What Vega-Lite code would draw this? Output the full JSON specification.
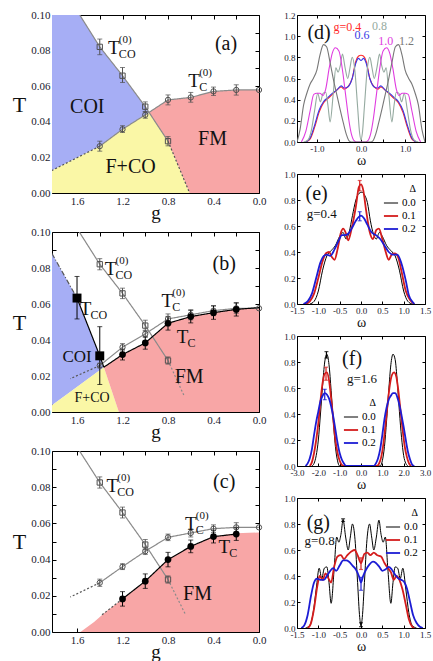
{
"$schema":"https://vega.github.io/schema/vega-lite/v6.json",
"background":"white",
"padding":{"left":11,"top":8,"right":2,"bottom":0},
"config":{
 "view":{"stroke":"#000000","strokeWidth":1},
 "axis":{"grid":false,"domain":false,"tickColor":"#000000","tickWidth":1,"labelFont":"Liberation Serif","labelColor":"#1a1a2e","titleFont":"Liberation Serif","titleFontWeight":"normal","titleColor":"#111111","labelFlush":false,"labelOverlap":false},
 "text":{"font":"Liberation Serif"},
 "legend":{"symbolType":"stroke","symbolSize":200,"symbolStrokeWidth":2,"labelFont":"Liberation Serif","labelFontSize":11,"titleFont":"Liberation Serif","titleFontSize":10,"titleFontWeight":"normal","titleAnchor":"end","rowPadding":0,"padding":0,"titlePadding":1,"labelOffset":3}
},
"datasets":{
"reg":[
{"p":"a","c":"COI","g":1.82,"top":0.1,"bot":0.0127},{"p":"a","c":"COI","g":1.576,"top":0.1,"bot":0.0206},{"p":"a","c":"COI","g":1.4,"top":0.0821,"bot":0.0263},{"p":"a","c":"COI","g":1.2,"top":0.0659,"bot":0.0358},{"p":"a","c":"COI","g":1.0,"top":0.0485,"bot":0.0439},{"p":"a","c":"COI","g":0.97,"top":0.0452,"bot":0.0452},
{"p":"a","c":"FCO","g":1.82,"top":0.0127,"bot":0},{"p":"a","c":"FCO","g":1.4,"top":0.0263,"bot":0},{"p":"a","c":"FCO","g":1.2,"top":0.0358,"bot":0},{"p":"a","c":"FCO","g":1.0,"top":0.0439,"bot":0},{"p":"a","c":"FCO","g":0.97,"top":0.0452,"bot":0},{"p":"a","c":"FCO","g":0.8,"top":0.0291,"bot":0},{"p":"a","c":"FCO","g":0.61,"top":0,"bot":0},
{"p":"a","c":"FM","g":0.97,"top":0.0452,"bot":0.0452},{"p":"a","c":"FM","g":0.8,"top":0.0523,"bot":0.0291},{"p":"a","c":"FM","g":0.61,"top":0.0536,"bot":0},{"p":"a","c":"FM","g":0.6,"top":0.0537,"bot":0},{"p":"a","c":"FM","g":0.4,"top":0.0571,"bot":0},{"p":"a","c":"FM","g":0.2,"top":0.0579,"bot":0},{"p":"a","c":"FM","g":0,"top":0.0579,"bot":0},
{"p":"b","c":"COI","g":1.82,"top":0.088,"bot":0.0037},{"p":"b","c":"COI","g":1.6,"top":0.0633,"bot":0.0139},{"p":"b","c":"COI","g":1.4,"top":0.0312,"bot":0.0232},{"p":"b","c":"COI","g":1.364,"top":0.0249,"bot":0.0249},
{"p":"b","c":"FCO","g":1.82,"top":0.0037,"bot":0},{"p":"b","c":"FCO","g":1.364,"top":0.0249,"bot":0},{"p":"b","c":"FCO","g":1.232,"top":0,"bot":0},
{"p":"b","c":"FM","g":1.364,"top":0.0249,"bot":0.0249},{"p":"b","c":"FM","g":1.232,"top":0.0305,"bot":0},{"p":"b","c":"FM","g":1.2,"top":0.0319,"bot":0},{"p":"b","c":"FM","g":1.0,"top":0.0384,"bot":0},{"p":"b","c":"FM","g":0.8,"top":0.0493,"bot":0},{"p":"b","c":"FM","g":0.6,"top":0.053,"bot":0},{"p":"b","c":"FM","g":0.4,"top":0.0552,"bot":0},{"p":"b","c":"FM","g":0.2,"top":0.057,"bot":0},{"p":"b","c":"FM","g":0,"top":0.058,"bot":0},
{"p":"c","c":"FM","g":1.57,"top":0,"bot":0},{"p":"c","c":"FM","g":1.45,"top":0.0055,"bot":0},{"p":"c","c":"FM","g":1.35,"top":0.011,"bot":0},{"p":"c","c":"FM","g":1.2,"top":0.0183,"bot":0},{"p":"c","c":"FM","g":1.0,"top":0.0281,"bot":0},{"p":"c","c":"FM","g":0.8,"top":0.04,"bot":0},{"p":"c","c":"FM","g":0.6,"top":0.0473,"bot":0},{"p":"c","c":"FM","g":0.4,"top":0.0527,"bot":0},{"p":"c","c":"FM","g":0.2,"top":0.0545,"bot":0},{"p":"c","c":"FM","g":0,"top":0.055,"bot":0}
],
"ln":[
{"p":"a","s":"tco0","c":"gray","dash":"solid","o":1,"g":1.576,"T":0.1},{"p":"a","s":"tco0","c":"gray","dash":"solid","o":2,"g":1.4,"T":0.0821},{"p":"a","s":"tco0","c":"gray","dash":"solid","o":3,"g":1.2,"T":0.0659},{"p":"a","s":"tco0","c":"gray","dash":"solid","o":4,"g":1.0,"T":0.0485},{"p":"a","s":"tco0","c":"gray","dash":"solid","o":5,"g":0.8,"T":0.0291},
{"p":"a","s":"tco0d","c":"dark","dash":"dot","o":1,"g":0.8,"T":0.0291},{"p":"a","s":"tco0d","c":"dark","dash":"dot","o":2,"g":0.61,"T":0},
{"p":"a","s":"tc0","c":"gray","dash":"solid","o":1,"g":1.4,"T":0.0263},{"p":"a","s":"tc0","c":"gray","dash":"solid","o":2,"g":1.2,"T":0.0358},{"p":"a","s":"tc0","c":"gray","dash":"solid","o":3,"g":1.0,"T":0.0439},{"p":"a","s":"tc0","c":"gray","dash":"solid","o":4,"g":0.8,"T":0.0523},{"p":"a","s":"tc0","c":"gray","dash":"solid","o":5,"g":0.6,"T":0.0537},{"p":"a","s":"tc0","c":"gray","dash":"solid","o":6,"g":0.4,"T":0.0571},{"p":"a","s":"tc0","c":"gray","dash":"solid","o":7,"g":0.2,"T":0.0579},{"p":"a","s":"tc0","c":"gray","dash":"solid","o":8,"g":0,"T":0.0579},
{"p":"a","s":"tc0d","c":"dark","dash":"dot","o":1,"g":1.4,"T":0.0263},{"p":"a","s":"tc0d","c":"dark","dash":"dot","o":2,"g":1.82,"T":0.0127},
{"p":"b","s":"tco0","c":"gray","dash":"solid","o":1,"g":1.58,"T":0.1},{"p":"b","s":"tco0","c":"gray","dash":"solid","o":2,"g":1.4,"T":0.0821},{"p":"b","s":"tco0","c":"gray","dash":"solid","o":3,"g":1.2,"T":0.0659},{"p":"b","s":"tco0","c":"gray","dash":"solid","o":4,"g":1.0,"T":0.048},{"p":"b","s":"tco0","c":"gray","dash":"solid","o":5,"g":0.8,"T":0.0286},
{"p":"b","s":"tco0d","c":"gray","dash":"dot","o":1,"g":0.8,"T":0.0286},{"p":"b","s":"tco0d","c":"gray","dash":"dot","o":2,"g":0.66,"T":0.0092},
{"p":"b","s":"tc0","c":"gray","dash":"solid","o":1,"g":1.4,"T":0.0258},{"p":"b","s":"tc0","c":"gray","dash":"solid","o":2,"g":1.2,"T":0.036},{"p":"b","s":"tc0","c":"gray","dash":"solid","o":3,"g":1.0,"T":0.0434},{"p":"b","s":"tc0","c":"gray","dash":"solid","o":4,"g":0.8,"T":0.0517},{"p":"b","s":"tc0","c":"gray","dash":"solid","o":5,"g":0.6,"T":0.054},{"p":"b","s":"tc0","c":"gray","dash":"solid","o":6,"g":0.4,"T":0.0563},{"p":"b","s":"tc0","c":"gray","dash":"solid","o":7,"g":0.2,"T":0.0576},{"p":"b","s":"tc0","c":"gray","dash":"solid","o":8,"g":0,"T":0.0576},
{"p":"b","s":"tc0d","c":"dark","dash":"dot","o":1,"g":1.4,"T":0.0258},{"p":"b","s":"tc0d","c":"dark","dash":"dot","o":2,"g":1.66,"T":0.0185},
{"p":"b","s":"tc","c":"black","dash":"solid","o":1,"g":1.364,"T":0.0249},{"p":"b","s":"tc","c":"black","dash":"solid","o":2,"g":1.2,"T":0.0319},{"p":"b","s":"tc","c":"black","dash":"solid","o":3,"g":1.0,"T":0.0384},{"p":"b","s":"tc","c":"black","dash":"solid","o":4,"g":0.8,"T":0.0493},{"p":"b","s":"tc","c":"black","dash":"solid","o":5,"g":0.6,"T":0.053},{"p":"b","s":"tc","c":"black","dash":"solid","o":6,"g":0.4,"T":0.0552},{"p":"b","s":"tc","c":"black","dash":"solid","o":7,"g":0.2,"T":0.057},{"p":"b","s":"tc","c":"black","dash":"solid","o":8,"g":0,"T":0.058},
{"p":"b","s":"tco","c":"black","dash":"solid","o":1,"g":1.6,"T":0.0633},{"p":"b","s":"tco","c":"black","dash":"solid","o":2,"g":1.4,"T":0.0312},{"p":"b","s":"tco","c":"black","dash":"solid","o":3,"g":1.364,"T":0.0249},
{"p":"b","s":"tcod","c":"dark","dash":"dashdot","o":1,"g":1.82,"T":0.088},{"p":"b","s":"tcod","c":"dark","dash":"dashdot","o":2,"g":1.6,"T":0.0633},
{"p":"c","s":"tco0","c":"gray","dash":"solid","o":1,"g":1.578,"T":0.1},{"p":"c","s":"tco0","c":"gray","dash":"solid","o":2,"g":1.4,"T":0.0826},{"p":"c","s":"tco0","c":"gray","dash":"solid","o":3,"g":1.2,"T":0.066},{"p":"c","s":"tco0","c":"gray","dash":"solid","o":4,"g":1.0,"T":0.0483},{"p":"c","s":"tco0","c":"gray","dash":"solid","o":5,"g":0.8,"T":0.029},
{"p":"c","s":"tco0d","c":"gray","dash":"dot","o":1,"g":0.8,"T":0.029},{"p":"c","s":"tco0d","c":"gray","dash":"dot","o":2,"g":0.65,"T":0.0101},
{"p":"c","s":"tc0","c":"gray","dash":"solid","o":1,"g":1.4,"T":0.0272},{"p":"c","s":"tc0","c":"gray","dash":"solid","o":2,"g":1.2,"T":0.0361},{"p":"c","s":"tc0","c":"gray","dash":"solid","o":3,"g":1.0,"T":0.0446},{"p":"c","s":"tc0","c":"gray","dash":"solid","o":4,"g":0.8,"T":0.0523},{"p":"c","s":"tc0","c":"gray","dash":"solid","o":5,"g":0.6,"T":0.0547},{"p":"c","s":"tc0","c":"gray","dash":"solid","o":6,"g":0.4,"T":0.0571},{"p":"c","s":"tc0","c":"gray","dash":"solid","o":7,"g":0.2,"T":0.0578},{"p":"c","s":"tc0","c":"gray","dash":"solid","o":8,"g":0,"T":0.0578},
{"p":"c","s":"tc0d","c":"dark","dash":"dot","o":1,"g":1.4,"T":0.0272},{"p":"c","s":"tc0d","c":"dark","dash":"dot","o":2,"g":1.66,"T":0.0193},
{"p":"c","s":"tc","c":"black","dash":"solid","o":1,"g":1.2,"T":0.0183},{"p":"c","s":"tc","c":"black","dash":"solid","o":2,"g":1.0,"T":0.0281},{"p":"c","s":"tc","c":"black","dash":"solid","o":3,"g":0.8,"T":0.04},{"p":"c","s":"tc","c":"black","dash":"solid","o":4,"g":0.6,"T":0.0473},{"p":"c","s":"tc","c":"black","dash":"solid","o":5,"g":0.4,"T":0.0527},{"p":"c","s":"tc","c":"black","dash":"solid","o":6,"g":0.2,"T":0.0541},
{"p":"c","s":"tcd","c":"dark","dash":"dot","o":1,"g":1.38,"T":0.0095},{"p":"c","s":"tcd","c":"dark","dash":"dot","o":2,"g":1.2,"T":0.0183}
],
"pt":[
{"p":"a","c":"mk","m":"osq","g":1.4,"T":0.0821,"lo":0.0777,"hi":0.0865},{"p":"a","c":"mk","m":"osq","g":1.2,"T":0.0659,"lo":0.0621,"hi":0.0705},{"p":"a","c":"mk","m":"osq","g":1.0,"T":0.0485,"lo":0.0455,"hi":0.0512},{"p":"a","c":"mk","m":"osq","g":0.8,"T":0.0291,"lo":0.0265,"hi":0.0317},
{"p":"a","c":"mk","m":"oci","g":1.4,"T":0.0263,"lo":0.0235,"hi":0.0291},{"p":"a","c":"mk","m":"oci","g":1.2,"T":0.0358,"lo":0.034,"hi":0.0378},{"p":"a","c":"mk","m":"oci","g":1.0,"T":0.0439,"lo":0.042,"hi":0.0458},{"p":"a","c":"mk","m":"oci","g":0.8,"T":0.0523,"lo":0.0495,"hi":0.0551},{"p":"a","c":"mk","m":"oci","g":0.6,"T":0.0537,"lo":0.051,"hi":0.0565},{"p":"a","c":"mk","m":"oci","g":0.4,"T":0.0571,"lo":0.0548,"hi":0.0595},{"p":"a","c":"mk","m":"oci","g":0.2,"T":0.0579,"lo":0.055,"hi":0.0608},{"p":"a","c":"mk","m":"oci","g":0,"T":0.0579,"lo":0.0579,"hi":0.0579},
{"p":"b","c":"mk","m":"osq","g":1.4,"T":0.0821,"lo":0.079,"hi":0.0852},{"p":"b","c":"mk","m":"osq","g":1.2,"T":0.0659,"lo":0.063,"hi":0.0688},{"p":"b","c":"mk","m":"osq","g":1.0,"T":0.048,"lo":0.045,"hi":0.051},{"p":"b","c":"mk","m":"osq","g":0.8,"T":0.0286,"lo":0.0266,"hi":0.0306},
{"p":"b","c":"mk","m":"oci","g":1.4,"T":0.0258,"lo":0.0245,"hi":0.0271},{"p":"b","c":"mk","m":"oci","g":1.2,"T":0.036,"lo":0.034,"hi":0.038},{"p":"b","c":"mk","m":"oci","g":1.0,"T":0.0434,"lo":0.0414,"hi":0.0454},{"p":"b","c":"mk","m":"oci","g":0.8,"T":0.0517,"lo":0.049,"hi":0.0545},{"p":"b","c":"mk","m":"oci","g":0.6,"T":0.054,"lo":0.0512,"hi":0.0568},{"p":"b","c":"mk","m":"oci","g":0.4,"T":0.0563,"lo":0.0535,"hi":0.0591},{"p":"b","c":"mk","m":"oci","g":0.2,"T":0.0576,"lo":0.0548,"hi":0.0605},{"p":"b","c":"mk","m":"oci","g":0,"T":0.0576,"lo":0.0576,"hi":0.0576},
{"p":"b","c":"black","m":"fci","g":1.2,"T":0.0319,"lo":0.0289,"hi":0.0349},{"p":"b","c":"black","m":"fci","g":1.0,"T":0.0384,"lo":0.0349,"hi":0.0419},{"p":"b","c":"black","m":"fci","g":0.8,"T":0.0493,"lo":0.0455,"hi":0.0531},{"p":"b","c":"black","m":"fci","g":0.6,"T":0.053,"lo":0.0495,"hi":0.0565},{"p":"b","c":"black","m":"fci","g":0.4,"T":0.0552,"lo":0.0515,"hi":0.0589},{"p":"b","c":"black","m":"fci","g":0.2,"T":0.057,"lo":0.0533,"hi":0.0607},
{"p":"b","c":"black","m":"fsq","g":1.6,"T":0.0633,"lo":0.0517,"hi":0.0753},{"p":"b","c":"black","m":"fsq","g":1.4,"T":0.0312,"lo":0.0153,"hi":0.0474},
{"p":"c","c":"mk","m":"osq","g":1.4,"T":0.0826,"lo":0.0795,"hi":0.0857},{"p":"c","c":"mk","m":"osq","g":1.2,"T":0.066,"lo":0.063,"hi":0.069},{"p":"c","c":"mk","m":"osq","g":1.0,"T":0.0483,"lo":0.0455,"hi":0.0511},{"p":"c","c":"mk","m":"osq","g":0.8,"T":0.029,"lo":0.027,"hi":0.031},
{"p":"c","c":"mk","m":"oci","g":1.4,"T":0.0272,"lo":0.0252,"hi":0.0292},{"p":"c","c":"mk","m":"oci","g":1.2,"T":0.0361,"lo":0.0345,"hi":0.0377},{"p":"c","c":"mk","m":"oci","g":1.0,"T":0.0446,"lo":0.0428,"hi":0.0464},{"p":"c","c":"mk","m":"oci","g":0.8,"T":0.0523,"lo":0.0505,"hi":0.0541},{"p":"c","c":"mk","m":"oci","g":0.6,"T":0.0547,"lo":0.0525,"hi":0.0569},{"p":"c","c":"mk","m":"oci","g":0.4,"T":0.0571,"lo":0.055,"hi":0.0592},{"p":"c","c":"mk","m":"oci","g":0.2,"T":0.0578,"lo":0.0552,"hi":0.0604},{"p":"c","c":"mk","m":"oci","g":0,"T":0.0578,"lo":0.0578,"hi":0.0578},
{"p":"c","c":"black","m":"fci","g":1.2,"T":0.0183,"lo":0.0143,"hi":0.0223},{"p":"c","c":"black","m":"fci","g":1.0,"T":0.0281,"lo":0.0241,"hi":0.0321},{"p":"c","c":"black","m":"fci","g":0.8,"T":0.04,"lo":0.036,"hi":0.044},{"p":"c","c":"black","m":"fci","g":0.6,"T":0.0473,"lo":0.0438,"hi":0.0508},{"p":"c","c":"black","m":"fci","g":0.4,"T":0.0527,"lo":0.0492,"hi":0.0562},{"p":"c","c":"black","m":"fci","g":0.2,"T":0.0541,"lo":0.0506,"hi":0.0576}
],
"lab":[
{"p":"a","g":0.29,"T":0.0836,"t":"(a)","sub":"","sup":"","k":"L"},{"p":"a","g":1.276,"T":0.0817,"t":"T","sub":"CO","sup":"(0)","k":"T"},{"p":"a","g":0.57,"T":0.063,"t":"T","sub":"C","sup":"(0)","k":"T"},{"p":"a","g":1.51,"T":0.0481,"t":"COI","sub":"","sup":"","k":"L"},{"p":"a","g":1.129,"T":0.0146,"t":"F+CO","sub":"","sup":"","k":"L"},{"p":"a","g":0.409,"T":0.0304,"t":"FM","sub":"","sup":"","k":"L"},
{"p":"b","g":0.306,"T":0.0821,"t":"(b)","sub":"","sup":"","k":"L"},{"p":"b","g":1.305,"T":0.0793,"t":"T","sub":"CO","sup":"(0)","k":"T"},{"p":"b","g":1.526,"T":0.0572,"t":"T","sub":"CO","sup":"","k":"T"},{"p":"b","g":0.806,"T":0.0614,"t":"T","sub":"C","sup":"(0)","k":"T"},{"p":"b","g":0.673,"T":0.0415,"t":"T","sub":"C","sup":"","k":"T"},{"p":"b","g":1.6,"T":0.0308,"t":"COI","sub":"","sup":"","k":"M"},{"p":"b","g":1.467,"T":0.0079,"t":"F+CO","sub":"","sup":"","k":"S"},{"p":"b","g":0.614,"T":0.0194,"t":"FM","sub":"","sup":"","k":"L"},
{"p":"c","g":0.306,"T":0.0826,"t":"(c)","sub":"","sup":"","k":"L"},{"p":"c","g":1.29,"T":0.0807,"t":"T","sub":"CO","sup":"(0)","k":"T"},{"p":"c","g":0.6,"T":0.0596,"t":"T","sub":"C","sup":"(0)","k":"T"},{"p":"c","g":0.306,"T":0.0468,"t":"T","sub":"C","sup":"","k":"T"},{"p":"c","g":0.541,"T":0.0211,"t":"FM","sub":"","sup":"","k":"L"}
],
"sp":[
{"p":"d","s":"0.4","w":-1.25,"A":0},{"p":"d","s":"0.4","w":-1.15,"A":0.03},{"p":"d","s":"0.4","w":-1.05,"A":0.14},{"p":"d","s":"0.4","w":-0.95,"A":0.28},{"p":"d","s":"0.4","w":-0.85,"A":0.37},{"p":"d","s":"0.4","w":-0.75,"A":0.41},{"p":"d","s":"0.4","w":-0.65,"A":0.45},{"p":"d","s":"0.4","w":-0.55,"A":0.49},{"p":"d","s":"0.4","w":-0.45,"A":0.52},{"p":"d","s":"0.4","w":-0.38,"A":0.5},{"p":"d","s":"0.4","w":-0.3,"A":0.52},{"p":"d","s":"0.4","w":-0.2,"A":0.6},{"p":"d","s":"0.4","w":-0.12,"A":0.76},{"p":"d","s":"0.4","w":-0.06,"A":0.81},{"p":"d","s":"0.4","w":0,"A":0.82},{"p":"d","s":"0.4","w":0.06,"A":0.81},{"p":"d","s":"0.4","w":0.12,"A":0.76},{"p":"d","s":"0.4","w":0.2,"A":0.6},{"p":"d","s":"0.4","w":0.3,"A":0.52},{"p":"d","s":"0.4","w":0.38,"A":0.5},{"p":"d","s":"0.4","w":0.45,"A":0.52},{"p":"d","s":"0.4","w":0.55,"A":0.49},{"p":"d","s":"0.4","w":0.65,"A":0.45},{"p":"d","s":"0.4","w":0.75,"A":0.41},{"p":"d","s":"0.4","w":0.85,"A":0.37},{"p":"d","s":"0.4","w":0.95,"A":0.28},{"p":"d","s":"0.4","w":1.05,"A":0.14},{"p":"d","s":"0.4","w":1.15,"A":0.03},{"p":"d","s":"0.4","w":1.25,"A":0},
{"p":"d","s":"0.6","w":-1.25,"A":0},{"p":"d","s":"0.6","w":-1.15,"A":0.04},{"p":"d","s":"0.6","w":-1.05,"A":0.16},{"p":"d","s":"0.6","w":-0.95,"A":0.3},{"p":"d","s":"0.6","w":-0.85,"A":0.38},{"p":"d","s":"0.6","w":-0.75,"A":0.42},{"p":"d","s":"0.6","w":-0.65,"A":0.46},{"p":"d","s":"0.6","w":-0.55,"A":0.49},{"p":"d","s":"0.6","w":-0.45,"A":0.53},{"p":"d","s":"0.6","w":-0.38,"A":0.51},{"p":"d","s":"0.6","w":-0.3,"A":0.52},{"p":"d","s":"0.6","w":-0.2,"A":0.6},{"p":"d","s":"0.6","w":-0.12,"A":0.74},{"p":"d","s":"0.6","w":-0.06,"A":0.79},{"p":"d","s":"0.6","w":0,"A":0.77},{"p":"d","s":"0.6","w":0.06,"A":0.79},{"p":"d","s":"0.6","w":0.12,"A":0.74},{"p":"d","s":"0.6","w":0.2,"A":0.6},{"p":"d","s":"0.6","w":0.3,"A":0.52},{"p":"d","s":"0.6","w":0.38,"A":0.51},{"p":"d","s":"0.6","w":0.45,"A":0.53},{"p":"d","s":"0.6","w":0.55,"A":0.49},{"p":"d","s":"0.6","w":0.65,"A":0.46},{"p":"d","s":"0.6","w":0.75,"A":0.42},{"p":"d","s":"0.6","w":0.85,"A":0.38},{"p":"d","s":"0.6","w":0.95,"A":0.3},{"p":"d","s":"0.6","w":1.05,"A":0.16},{"p":"d","s":"0.6","w":1.15,"A":0.04},{"p":"d","s":"0.6","w":1.25,"A":0},
{"p":"d","s":"0.8","w":-1.3,"A":0},{"p":"d","s":"0.8","w":-1.2,"A":0.02},{"p":"d","s":"0.8","w":-1.12,"A":0.12},{"p":"d","s":"0.8","w":-1.05,"A":0.3},{"p":"d","s":"0.8","w":-0.98,"A":0.46},{"p":"d","s":"0.8","w":-0.92,"A":0.38},{"p":"d","s":"0.8","w":-0.86,"A":0.46},{"p":"d","s":"0.8","w":-0.8,"A":0.47},{"p":"d","s":"0.8","w":-0.75,"A":0.35},{"p":"d","s":"0.8","w":-0.7,"A":0.19},{"p":"d","s":"0.8","w":-0.63,"A":0.45},{"p":"d","s":"0.8","w":-0.57,"A":0.7},{"p":"d","s":"0.8","w":-0.52,"A":0.66},{"p":"d","s":"0.8","w":-0.47,"A":0.72},{"p":"d","s":"0.8","w":-0.42,"A":0.83},{"p":"d","s":"0.8","w":-0.36,"A":0.7},{"p":"d","s":"0.8","w":-0.3,"A":0.6},{"p":"d","s":"0.8","w":-0.25,"A":0.7},{"p":"d","s":"0.8","w":-0.2,"A":0.8},{"p":"d","s":"0.8","w":-0.14,"A":0.68},{"p":"d","s":"0.8","w":-0.08,"A":0.35},{"p":"d","s":"0.8","w":-0.03,"A":0.08},{"p":"d","s":"0.8","w":0,"A":0.02},{"p":"d","s":"0.8","w":0.03,"A":0.08},{"p":"d","s":"0.8","w":0.08,"A":0.35},{"p":"d","s":"0.8","w":0.14,"A":0.68},{"p":"d","s":"0.8","w":0.2,"A":0.8},{"p":"d","s":"0.8","w":0.25,"A":0.7},{"p":"d","s":"0.8","w":0.3,"A":0.6},{"p":"d","s":"0.8","w":0.36,"A":0.7},{"p":"d","s":"0.8","w":0.42,"A":0.83},{"p":"d","s":"0.8","w":0.47,"A":0.72},{"p":"d","s":"0.8","w":0.52,"A":0.66},{"p":"d","s":"0.8","w":0.57,"A":0.7},{"p":"d","s":"0.8","w":0.63,"A":0.45},{"p":"d","s":"0.8","w":0.7,"A":0.19},{"p":"d","s":"0.8","w":0.75,"A":0.35},{"p":"d","s":"0.8","w":0.8,"A":0.47},{"p":"d","s":"0.8","w":0.86,"A":0.46},{"p":"d","s":"0.8","w":0.92,"A":0.38},{"p":"d","s":"0.8","w":0.98,"A":0.46},{"p":"d","s":"0.8","w":1.05,"A":0.3},{"p":"d","s":"0.8","w":1.12,"A":0.12},{"p":"d","s":"0.8","w":1.2,"A":0.02},{"p":"d","s":"0.8","w":1.3,"A":0},
{"p":"d","s":"1.0","w":-1.35,"A":0},{"p":"d","s":"1.0","w":-1.25,"A":0.1},{"p":"d","s":"1.0","w":-1.15,"A":0.3},{"p":"d","s":"1.0","w":-1.07,"A":0.45},{"p":"d","s":"1.0","w":-1.0,"A":0.46},{"p":"d","s":"1.0","w":-0.93,"A":0.46},{"p":"d","s":"1.0","w":-0.86,"A":0.44},{"p":"d","s":"1.0","w":-0.8,"A":0.5},{"p":"d","s":"1.0","w":-0.72,"A":0.7},{"p":"d","s":"1.0","w":-0.65,"A":0.84},{"p":"d","s":"1.0","w":-0.58,"A":0.89},{"p":"d","s":"1.0","w":-0.5,"A":0.86},{"p":"d","s":"1.0","w":-0.42,"A":0.68},{"p":"d","s":"1.0","w":-0.35,"A":0.45},{"p":"d","s":"1.0","w":-0.28,"A":0.22},{"p":"d","s":"1.0","w":-0.22,"A":0.08},{"p":"d","s":"1.0","w":-0.15,"A":0.01},{"p":"d","s":"1.0","w":-0.1,"A":0},{"p":"d","s":"1.0","w":0.1,"A":0},{"p":"d","s":"1.0","w":0.15,"A":0.01},{"p":"d","s":"1.0","w":0.22,"A":0.08},{"p":"d","s":"1.0","w":0.28,"A":0.22},{"p":"d","s":"1.0","w":0.35,"A":0.45},{"p":"d","s":"1.0","w":0.42,"A":0.68},{"p":"d","s":"1.0","w":0.5,"A":0.86},{"p":"d","s":"1.0","w":0.58,"A":0.89},{"p":"d","s":"1.0","w":0.65,"A":0.84},{"p":"d","s":"1.0","w":0.72,"A":0.7},{"p":"d","s":"1.0","w":0.8,"A":0.5},{"p":"d","s":"1.0","w":0.86,"A":0.44},{"p":"d","s":"1.0","w":0.93,"A":0.46},{"p":"d","s":"1.0","w":1.0,"A":0.46},{"p":"d","s":"1.0","w":1.07,"A":0.45},{"p":"d","s":"1.0","w":1.15,"A":0.3},{"p":"d","s":"1.0","w":1.25,"A":0.1},{"p":"d","s":"1.0","w":1.35,"A":0},
{"p":"d","s":"1.2","w":-1.45,"A":0},{"p":"d","s":"1.2","w":-1.38,"A":0.12},{"p":"d","s":"1.2","w":-1.3,"A":0.35},{"p":"d","s":"1.2","w":-1.22,"A":0.47},{"p":"d","s":"1.2","w":-1.15,"A":0.55},{"p":"d","s":"1.2","w":-1.08,"A":0.6},{"p":"d","s":"1.2","w":-1.0,"A":0.68},{"p":"d","s":"1.2","w":-0.93,"A":0.82},{"p":"d","s":"1.2","w":-0.85,"A":0.92},{"p":"d","s":"1.2","w":-0.78,"A":0.9},{"p":"d","s":"1.2","w":-0.7,"A":0.75},{"p":"d","s":"1.2","w":-0.62,"A":0.58},{"p":"d","s":"1.2","w":-0.55,"A":0.45},{"p":"d","s":"1.2","w":-0.48,"A":0.32},{"p":"d","s":"1.2","w":-0.4,"A":0.18},{"p":"d","s":"1.2","w":-0.33,"A":0.07},{"p":"d","s":"1.2","w":-0.27,"A":0.01},{"p":"d","s":"1.2","w":-0.22,"A":0},{"p":"d","s":"1.2","w":0.22,"A":0},{"p":"d","s":"1.2","w":0.27,"A":0.01},{"p":"d","s":"1.2","w":0.33,"A":0.07},{"p":"d","s":"1.2","w":0.4,"A":0.18},{"p":"d","s":"1.2","w":0.48,"A":0.32},{"p":"d","s":"1.2","w":0.55,"A":0.45},{"p":"d","s":"1.2","w":0.62,"A":0.58},{"p":"d","s":"1.2","w":0.7,"A":0.75},{"p":"d","s":"1.2","w":0.78,"A":0.9},{"p":"d","s":"1.2","w":0.85,"A":0.92},{"p":"d","s":"1.2","w":0.93,"A":0.82},{"p":"d","s":"1.2","w":1.0,"A":0.68},{"p":"d","s":"1.2","w":1.08,"A":0.6},{"p":"d","s":"1.2","w":1.15,"A":0.55},{"p":"d","s":"1.2","w":1.22,"A":0.47},{"p":"d","s":"1.2","w":1.3,"A":0.35},{"p":"d","s":"1.2","w":1.38,"A":0.12},{"p":"d","s":"1.2","w":1.45,"A":0},
{"p":"e","s":"0.0","w":-1.2,"A":0},{"p":"e","s":"0.0","w":-1.1,"A":0.02},{"p":"e","s":"0.0","w":-1.0,"A":0.1},{"p":"e","s":"0.0","w":-0.9,"A":0.26},{"p":"e","s":"0.0","w":-0.8,"A":0.37},{"p":"e","s":"0.0","w":-0.7,"A":0.41},{"p":"e","s":"0.0","w":-0.6,"A":0.45},{"p":"e","s":"0.0","w":-0.5,"A":0.52},{"p":"e","s":"0.0","w":-0.42,"A":0.55},{"p":"e","s":"0.0","w":-0.35,"A":0.5},{"p":"e","s":"0.0","w":-0.28,"A":0.55},{"p":"e","s":"0.0","w":-0.2,"A":0.68},{"p":"e","s":"0.0","w":-0.12,"A":0.8},{"p":"e","s":"0.0","w":-0.05,"A":0.85},{"p":"e","s":"0.0","w":0.02,"A":0.86},{"p":"e","s":"0.0","w":0.08,"A":0.84},{"p":"e","s":"0.0","w":0.15,"A":0.78},{"p":"e","s":"0.0","w":0.22,"A":0.64},{"p":"e","s":"0.0","w":0.29,"A":0.54},{"p":"e","s":"0.0","w":0.36,"A":0.5},{"p":"e","s":"0.0","w":0.43,"A":0.55},{"p":"e","s":"0.0","w":0.5,"A":0.52},{"p":"e","s":"0.0","w":0.6,"A":0.45},{"p":"e","s":"0.0","w":0.7,"A":0.41},{"p":"e","s":"0.0","w":0.8,"A":0.37},{"p":"e","s":"0.0","w":0.9,"A":0.26},{"p":"e","s":"0.0","w":1.0,"A":0.1},{"p":"e","s":"0.0","w":1.1,"A":0.02},{"p":"e","s":"0.0","w":1.2,"A":0},
{"p":"e","s":"0.1","w":-1.3,"A":0},{"p":"e","s":"0.1","w":-1.2,"A":0.02},{"p":"e","s":"0.1","w":-1.1,"A":0.08},{"p":"e","s":"0.1","w":-1.0,"A":0.2},{"p":"e","s":"0.1","w":-0.9,"A":0.33},{"p":"e","s":"0.1","w":-0.82,"A":0.39},{"p":"e","s":"0.1","w":-0.75,"A":0.4},{"p":"e","s":"0.1","w":-0.68,"A":0.36},{"p":"e","s":"0.1","w":-0.62,"A":0.34},{"p":"e","s":"0.1","w":-0.55,"A":0.42},{"p":"e","s":"0.1","w":-0.47,"A":0.55},{"p":"e","s":"0.1","w":-0.42,"A":0.58},{"p":"e","s":"0.1","w":-0.36,"A":0.55},{"p":"e","s":"0.1","w":-0.3,"A":0.49},{"p":"e","s":"0.1","w":-0.22,"A":0.58},{"p":"e","s":"0.1","w":-0.12,"A":0.75},{"p":"e","s":"0.1","w":-0.05,"A":0.9},{"p":"e","s":"0.1","w":0,"A":0.92},{"p":"e","s":"0.1","w":0.05,"A":0.88},{"p":"e","s":"0.1","w":0.12,"A":0.72},{"p":"e","s":"0.1","w":0.2,"A":0.56},{"p":"e","s":"0.1","w":0.28,"A":0.5},{"p":"e","s":"0.1","w":0.36,"A":0.57},{"p":"e","s":"0.1","w":0.42,"A":0.58},{"p":"e","s":"0.1","w":0.5,"A":0.5},{"p":"e","s":"0.1","w":0.58,"A":0.4},{"p":"e","s":"0.1","w":0.65,"A":0.34},{"p":"e","s":"0.1","w":0.72,"A":0.38},{"p":"e","s":"0.1","w":0.8,"A":0.39},{"p":"e","s":"0.1","w":0.88,"A":0.35},{"p":"e","s":"0.1","w":0.95,"A":0.25},{"p":"e","s":"0.1","w":1.05,"A":0.1},{"p":"e","s":"0.1","w":1.15,"A":0.03},{"p":"e","s":"0.1","w":1.25,"A":0},
{"p":"e","s":"0.2","w":-1.35,"A":0},{"p":"e","s":"0.2","w":-1.25,"A":0.02},{"p":"e","s":"0.2","w":-1.15,"A":0.08},{"p":"e","s":"0.2","w":-1.05,"A":0.2},{"p":"e","s":"0.2","w":-0.95,"A":0.32},{"p":"e","s":"0.2","w":-0.87,"A":0.37},{"p":"e","s":"0.2","w":-0.8,"A":0.38},{"p":"e","s":"0.2","w":-0.72,"A":0.37},{"p":"e","s":"0.2","w":-0.62,"A":0.42},{"p":"e","s":"0.2","w":-0.52,"A":0.49},{"p":"e","s":"0.2","w":-0.45,"A":0.53},{"p":"e","s":"0.2","w":-0.37,"A":0.53},{"p":"e","s":"0.2","w":-0.3,"A":0.54},{"p":"e","s":"0.2","w":-0.22,"A":0.58},{"p":"e","s":"0.2","w":-0.12,"A":0.64},{"p":"e","s":"0.2","w":-0.05,"A":0.67},{"p":"e","s":"0.2","w":0,"A":0.68},{"p":"e","s":"0.2","w":0.07,"A":0.66},{"p":"e","s":"0.2","w":0.15,"A":0.61},{"p":"e","s":"0.2","w":0.25,"A":0.55},{"p":"e","s":"0.2","w":0.35,"A":0.53},{"p":"e","s":"0.2","w":0.45,"A":0.5},{"p":"e","s":"0.2","w":0.55,"A":0.45},{"p":"e","s":"0.2","w":0.65,"A":0.4},{"p":"e","s":"0.2","w":0.75,"A":0.38},{"p":"e","s":"0.2","w":0.85,"A":0.38},{"p":"e","s":"0.2","w":0.95,"A":0.31},{"p":"e","s":"0.2","w":1.05,"A":0.18},{"p":"e","s":"0.2","w":1.12,"A":0.07},{"p":"e","s":"0.2","w":1.2,"A":0.02},{"p":"e","s":"0.2","w":1.25,"A":0},
{"p":"f","s":"0.0","w":-2.3,"A":0},{"p":"f","s":"0.0","w":-2.2,"A":0.02},{"p":"f","s":"0.0","w":-2.1,"A":0.08},{"p":"f","s":"0.0","w":-2.0,"A":0.2},{"p":"f","s":"0.0","w":-1.9,"A":0.4},{"p":"f","s":"0.0","w":-1.8,"A":0.62},{"p":"f","s":"0.0","w":-1.7,"A":0.8},{"p":"f","s":"0.0","w":-1.6,"A":0.86},{"p":"f","s":"0.0","w":-1.5,"A":0.78},{"p":"f","s":"0.0","w":-1.4,"A":0.58},{"p":"f","s":"0.0","w":-1.3,"A":0.35},{"p":"f","s":"0.0","w":-1.2,"A":0.15},{"p":"f","s":"0.0","w":-1.1,"A":0.04},{"p":"f","s":"0.0","w":-1.0,"A":0},{"p":"f","s":"0.0","w":0.9,"A":0},{"p":"f","s":"0.0","w":1.0,"A":0.04},{"p":"f","s":"0.0","w":1.1,"A":0.15},{"p":"f","s":"0.0","w":1.2,"A":0.35},{"p":"f","s":"0.0","w":1.3,"A":0.58},{"p":"f","s":"0.0","w":1.4,"A":0.78},{"p":"f","s":"0.0","w":1.5,"A":0.86},{"p":"f","s":"0.0","w":1.6,"A":0.82},{"p":"f","s":"0.0","w":1.7,"A":0.65},{"p":"f","s":"0.0","w":1.8,"A":0.42},{"p":"f","s":"0.0","w":1.9,"A":0.22},{"p":"f","s":"0.0","w":2.0,"A":0.08},{"p":"f","s":"0.0","w":2.1,"A":0.02},{"p":"f","s":"0.0","w":2.2,"A":0},
{"p":"f","s":"0.1","w":-2.4,"A":0},{"p":"f","s":"0.1","w":-2.3,"A":0.03},{"p":"f","s":"0.1","w":-2.2,"A":0.1},{"p":"f","s":"0.1","w":-2.1,"A":0.2},{"p":"f","s":"0.1","w":-2.0,"A":0.33},{"p":"f","s":"0.1","w":-1.9,"A":0.5},{"p":"f","s":"0.1","w":-1.8,"A":0.64},{"p":"f","s":"0.1","w":-1.7,"A":0.71},{"p":"f","s":"0.1","w":-1.6,"A":0.72},{"p":"f","s":"0.1","w":-1.5,"A":0.66},{"p":"f","s":"0.1","w":-1.4,"A":0.52},{"p":"f","s":"0.1","w":-1.3,"A":0.36},{"p":"f","s":"0.1","w":-1.2,"A":0.2},{"p":"f","s":"0.1","w":-1.1,"A":0.1},{"p":"f","s":"0.1","w":-1.0,"A":0.04},{"p":"f","s":"0.1","w":-0.9,"A":0.01},{"p":"f","s":"0.1","w":-0.8,"A":0},{"p":"f","s":"0.1","w":0.75,"A":0},{"p":"f","s":"0.1","w":0.85,"A":0.02},{"p":"f","s":"0.1","w":0.95,"A":0.07},{"p":"f","s":"0.1","w":1.05,"A":0.17},{"p":"f","s":"0.1","w":1.15,"A":0.32},{"p":"f","s":"0.1","w":1.25,"A":0.48},{"p":"f","s":"0.1","w":1.35,"A":0.62},{"p":"f","s":"0.1","w":1.45,"A":0.7},{"p":"f","s":"0.1","w":1.55,"A":0.72},{"p":"f","s":"0.1","w":1.65,"A":0.69},{"p":"f","s":"0.1","w":1.75,"A":0.58},{"p":"f","s":"0.1","w":1.85,"A":0.43},{"p":"f","s":"0.1","w":1.95,"A":0.28},{"p":"f","s":"0.1","w":2.05,"A":0.15},{"p":"f","s":"0.1","w":2.15,"A":0.07},{"p":"f","s":"0.1","w":2.25,"A":0.02},{"p":"f","s":"0.1","w":2.35,"A":0},
{"p":"f","s":"0.2","w":-2.6,"A":0},{"p":"f","s":"0.2","w":-2.5,"A":0.02},{"p":"f","s":"0.2","w":-2.4,"A":0.06},{"p":"f","s":"0.2","w":-2.3,"A":0.13},{"p":"f","s":"0.2","w":-2.2,"A":0.24},{"p":"f","s":"0.2","w":-2.1,"A":0.34},{"p":"f","s":"0.2","w":-2.0,"A":0.42},{"p":"f","s":"0.2","w":-1.9,"A":0.5},{"p":"f","s":"0.2","w":-1.8,"A":0.54},{"p":"f","s":"0.2","w":-1.7,"A":0.56},{"p":"f","s":"0.2","w":-1.6,"A":0.55},{"p":"f","s":"0.2","w":-1.5,"A":0.52},{"p":"f","s":"0.2","w":-1.4,"A":0.46},{"p":"f","s":"0.2","w":-1.3,"A":0.38},{"p":"f","s":"0.2","w":-1.2,"A":0.28},{"p":"f","s":"0.2","w":-1.1,"A":0.18},{"p":"f","s":"0.2","w":-1.0,"A":0.1},{"p":"f","s":"0.2","w":-0.9,"A":0.05},{"p":"f","s":"0.2","w":-0.8,"A":0.02},{"p":"f","s":"0.2","w":-0.7,"A":0},{"p":"f","s":"0.2","w":0.6,"A":0},{"p":"f","s":"0.2","w":0.7,"A":0.02},{"p":"f","s":"0.2","w":0.8,"A":0.06},{"p":"f","s":"0.2","w":0.9,"A":0.13},{"p":"f","s":"0.2","w":1.0,"A":0.24},{"p":"f","s":"0.2","w":1.1,"A":0.36},{"p":"f","s":"0.2","w":1.2,"A":0.45},{"p":"f","s":"0.2","w":1.3,"A":0.51},{"p":"f","s":"0.2","w":1.4,"A":0.54},{"p":"f","s":"0.2","w":1.5,"A":0.56},{"p":"f","s":"0.2","w":1.6,"A":0.56},{"p":"f","s":"0.2","w":1.7,"A":0.53},{"p":"f","s":"0.2","w":1.8,"A":0.47},{"p":"f","s":"0.2","w":1.9,"A":0.39},{"p":"f","s":"0.2","w":2.0,"A":0.3},{"p":"f","s":"0.2","w":2.1,"A":0.2},{"p":"f","s":"0.2","w":2.2,"A":0.11},{"p":"f","s":"0.2","w":2.3,"A":0.05},{"p":"f","s":"0.2","w":2.4,"A":0.01},{"p":"f","s":"0.2","w":2.5,"A":0},
{"p":"g","s":"0.0","w":-1.3,"A":0},{"p":"g","s":"0.0","w":-1.2,"A":0.02},{"p":"g","s":"0.0","w":-1.12,"A":0.12},{"p":"g","s":"0.0","w":-1.05,"A":0.3},{"p":"g","s":"0.0","w":-0.98,"A":0.46},{"p":"g","s":"0.0","w":-0.92,"A":0.38},{"p":"g","s":"0.0","w":-0.86,"A":0.46},{"p":"g","s":"0.0","w":-0.8,"A":0.47},{"p":"g","s":"0.0","w":-0.75,"A":0.35},{"p":"g","s":"0.0","w":-0.7,"A":0.19},{"p":"g","s":"0.0","w":-0.63,"A":0.45},{"p":"g","s":"0.0","w":-0.57,"A":0.7},{"p":"g","s":"0.0","w":-0.52,"A":0.66},{"p":"g","s":"0.0","w":-0.47,"A":0.72},{"p":"g","s":"0.0","w":-0.42,"A":0.83},{"p":"g","s":"0.0","w":-0.36,"A":0.7},{"p":"g","s":"0.0","w":-0.3,"A":0.6},{"p":"g","s":"0.0","w":-0.25,"A":0.7},{"p":"g","s":"0.0","w":-0.2,"A":0.8},{"p":"g","s":"0.0","w":-0.14,"A":0.68},{"p":"g","s":"0.0","w":-0.08,"A":0.35},{"p":"g","s":"0.0","w":-0.03,"A":0.08},{"p":"g","s":"0.0","w":0,"A":0.02},{"p":"g","s":"0.0","w":0.03,"A":0.08},{"p":"g","s":"0.0","w":0.08,"A":0.35},{"p":"g","s":"0.0","w":0.14,"A":0.68},{"p":"g","s":"0.0","w":0.2,"A":0.8},{"p":"g","s":"0.0","w":0.25,"A":0.7},{"p":"g","s":"0.0","w":0.3,"A":0.6},{"p":"g","s":"0.0","w":0.36,"A":0.7},{"p":"g","s":"0.0","w":0.42,"A":0.83},{"p":"g","s":"0.0","w":0.47,"A":0.72},{"p":"g","s":"0.0","w":0.52,"A":0.66},{"p":"g","s":"0.0","w":0.57,"A":0.7},{"p":"g","s":"0.0","w":0.63,"A":0.45},{"p":"g","s":"0.0","w":0.7,"A":0.19},{"p":"g","s":"0.0","w":0.75,"A":0.35},{"p":"g","s":"0.0","w":0.8,"A":0.47},{"p":"g","s":"0.0","w":0.86,"A":0.46},{"p":"g","s":"0.0","w":0.92,"A":0.38},{"p":"g","s":"0.0","w":0.98,"A":0.46},{"p":"g","s":"0.0","w":1.05,"A":0.3},{"p":"g","s":"0.0","w":1.12,"A":0.12},{"p":"g","s":"0.0","w":1.2,"A":0.02},{"p":"g","s":"0.0","w":1.3,"A":0},
{"p":"g","s":"0.1","w":-1.25,"A":0},{"p":"g","s":"0.1","w":-1.18,"A":0.03},{"p":"g","s":"0.1","w":-1.1,"A":0.15},{"p":"g","s":"0.1","w":-1.02,"A":0.33},{"p":"g","s":"0.1","w":-0.97,"A":0.4},{"p":"g","s":"0.1","w":-0.9,"A":0.37},{"p":"g","s":"0.1","w":-0.83,"A":0.42},{"p":"g","s":"0.1","w":-0.76,"A":0.38},{"p":"g","s":"0.1","w":-0.7,"A":0.35},{"p":"g","s":"0.1","w":-0.63,"A":0.47},{"p":"g","s":"0.1","w":-0.55,"A":0.55},{"p":"g","s":"0.1","w":-0.47,"A":0.56},{"p":"g","s":"0.1","w":-0.4,"A":0.53},{"p":"g","s":"0.1","w":-0.32,"A":0.56},{"p":"g","s":"0.1","w":-0.22,"A":0.59},{"p":"g","s":"0.1","w":-0.15,"A":0.6},{"p":"g","s":"0.1","w":-0.08,"A":0.56},{"p":"g","s":"0.1","w":0,"A":0.5},{"p":"g","s":"0.1","w":0.08,"A":0.57},{"p":"g","s":"0.1","w":0.15,"A":0.58},{"p":"g","s":"0.1","w":0.22,"A":0.56},{"p":"g","s":"0.1","w":0.3,"A":0.58},{"p":"g","s":"0.1","w":0.38,"A":0.56},{"p":"g","s":"0.1","w":0.47,"A":0.55},{"p":"g","s":"0.1","w":0.55,"A":0.5},{"p":"g","s":"0.1","w":0.63,"A":0.46},{"p":"g","s":"0.1","w":0.7,"A":0.43},{"p":"g","s":"0.1","w":0.77,"A":0.37},{"p":"g","s":"0.1","w":0.83,"A":0.4},{"p":"g","s":"0.1","w":0.9,"A":0.37},{"p":"g","s":"0.1","w":0.97,"A":0.3},{"p":"g","s":"0.1","w":1.05,"A":0.18},{"p":"g","s":"0.1","w":1.12,"A":0.07},{"p":"g","s":"0.1","w":1.2,"A":0.01},{"p":"g","s":"0.1","w":1.25,"A":0},
{"p":"g","s":"0.2","w":-1.4,"A":0},{"p":"g","s":"0.2","w":-1.33,"A":0.02},{"p":"g","s":"0.2","w":-1.25,"A":0.1},{"p":"g","s":"0.2","w":-1.17,"A":0.25},{"p":"g","s":"0.2","w":-1.1,"A":0.35},{"p":"g","s":"0.2","w":-1.03,"A":0.38},{"p":"g","s":"0.2","w":-0.95,"A":0.37},{"p":"g","s":"0.2","w":-0.87,"A":0.37},{"p":"g","s":"0.2","w":-0.8,"A":0.4},{"p":"g","s":"0.2","w":-0.72,"A":0.44},{"p":"g","s":"0.2","w":-0.65,"A":0.46},{"p":"g","s":"0.2","w":-0.58,"A":0.44},{"p":"g","s":"0.2","w":-0.5,"A":0.48},{"p":"g","s":"0.2","w":-0.42,"A":0.52},{"p":"g","s":"0.2","w":-0.35,"A":0.52},{"p":"g","s":"0.2","w":-0.28,"A":0.51},{"p":"g","s":"0.2","w":-0.2,"A":0.48},{"p":"g","s":"0.2","w":-0.12,"A":0.45},{"p":"g","s":"0.2","w":-0.05,"A":0.4},{"p":"g","s":"0.2","w":0,"A":0.35},{"p":"g","s":"0.2","w":0.05,"A":0.4},{"p":"g","s":"0.2","w":0.12,"A":0.45},{"p":"g","s":"0.2","w":0.2,"A":0.49},{"p":"g","s":"0.2","w":0.28,"A":0.51},{"p":"g","s":"0.2","w":0.35,"A":0.5},{"p":"g","s":"0.2","w":0.43,"A":0.47},{"p":"g","s":"0.2","w":0.5,"A":0.44},{"p":"g","s":"0.2","w":0.57,"A":0.45},{"p":"g","s":"0.2","w":0.65,"A":0.47},{"p":"g","s":"0.2","w":0.72,"A":0.45},{"p":"g","s":"0.2","w":0.8,"A":0.41},{"p":"g","s":"0.2","w":0.88,"A":0.38},{"p":"g","s":"0.2","w":0.95,"A":0.37},{"p":"g","s":"0.2","w":1.02,"A":0.35},{"p":"g","s":"0.2","w":1.08,"A":0.3},{"p":"g","s":"0.2","w":1.15,"A":0.2},{"p":"g","s":"0.2","w":1.22,"A":0.1},{"p":"g","s":"0.2","w":1.3,"A":0.04},{"p":"g","s":"0.2","w":1.38,"A":0.01},{"p":"g","s":"0.2","w":1.45,"A":0}
],
"se":[
{"p":"e","s":"0.1","w":-0.03,"lo":0.87,"hi":0.95},{"p":"e","s":"0.2","w":-0.03,"lo":0.64,"hi":0.71},
{"p":"f","s":"0.0","w":-1.62,"lo":0.83,"hi":0.88},{"p":"f","s":"0.1","w":-1.64,"lo":0.66,"hi":0.76},{"p":"f","s":"0.2","w":-1.7,"lo":0.51,"hi":0.59},
{"p":"g","s":"0.0","w":-0.42,"lo":0.82,"hi":0.84},{"p":"g","s":"0.0","w":0,"lo":0.01,"hi":0.04},{"p":"g","s":"0.1","w":0,"lo":0.45,"hi":0.54},{"p":"g","s":"0.2","w":0,"lo":0.29,"hi":0.39}
],
"sl":[
{"p":"d","w":-0.95,"A":1.03,"t":"(d)","s":"lab","k":"L"},{"p":"d","w":-0.31,"A":1.09,"t":"g=0.4","s":"0.4","k":"S"},{"p":"d","w":0.02,"A":1.01,"t":"0.6","s":"0.6","k":"S"},{"p":"d","w":0.42,"A":1.1,"t":"0.8","s":"0.8","k":"S"},{"p":"d","w":0.56,"A":0.95,"t":"1.0","s":"1.0","k":"S"},{"p":"d","w":1.03,"A":0.95,"t":"1.2","s":"1.2","k":"S"},
{"p":"e","w":-1.04,"A":0.85,"t":"(e)","s":"lab","k":"L"},{"p":"e","w":-0.92,"A":0.69,"t":"g=0.4","s":"lab","k":"S"},
{"p":"f","w":-0.42,"A":0.82,"t":"(f)","s":"lab","k":"L"},{"p":"f","w":0.05,"A":0.67,"t":"g=1.6","s":"lab","k":"S"},
{"p":"g","w":-1.0,"A":0.81,"t":"(g)","s":"lab","k":"L"},{"p":"g","w":-0.97,"A":0.67,"t":"g=0.8","s":"lab","k":"S"}
]
},
"spacing":16,
"bounds":"full",
"resolve":{"scale":{"color":"independent","size":"independent","shape":"independent","strokeDash":"independent","strokeWidth":"independent"},"legend":{"color":"independent"}},
"hconcat":[
{"vconcat":[
{"width":207,"height":178,
 "resolve":{"axis":{"x":"independent","y":"independent"},"scale":{"size":"independent","shape":"independent"}},
 "layer":[
  {"data":{"name":"reg"},"transform":[{"filter":"datum.p=='a'"}],"mark":{"type":"area","clip":true},
   "encoding":{"x":{"field":"g","type":"quantitative","scale":{"domain":[1.82,0],"nice":false,"zero":false},"axis":{"orient":"bottom","values":[1.6,1.4,1.2,1,0.8,0.6,0.4,0.2,0],"labelExpr":"round(datum.value*10)%4==0 ? format(datum.value,'.1f') : ''","labelFontSize":11,"tickSize":-4,"labelPadding":6,"title":"g","titleFontSize":19,"titlePadding":-3}},
    "y":{"field":"top","type":"quantitative","scale":{"domain":[0,0.1],"nice":false,"zero":false},"axis":{"orient":"left","values":[0,0.01,0.02,0.03,0.04,0.05,0.06,0.07,0.08,0.09,0.1],"labelExpr":"round(datum.value*100)%2==0 ? format(datum.value,'.2f') : ''","labelFontSize":11,"tickSize":-4,"labelPadding":6,"title":"T","titleFontSize":22,"titleAngle":0,"titleAlign":"right","titleBaseline":"middle","titlePadding":5}},
    "y2":{"field":"bot"},
    "color":{"field":"c","type":"nominal","scale":{"domain":["COI","FCO","FM","gray","dark","black","mk"],"range":["#a6aef5","#faf7a6","#f8a6a6","#8a8a8a","#555555","#000000","#505050"]},"legend":null}}},
  {"data":{"name":"ln"},"transform":[{"filter":"datum.p=='a'"}],"mark":{"type":"line","strokeWidth":1.2,"clip":true},
   "encoding":{"x":{"field":"g","type":"quantitative","scale":{"domain":[1.82,0],"nice":false,"zero":false},"axis":null},"y":{"field":"T","type":"quantitative","scale":{"domain":[0,0.1],"nice":false,"zero":false},"axis":null},"detail":{"field":"s"},"order":{"field":"o","type":"quantitative"},
    "color":{"field":"c","type":"nominal","scale":{"domain":["COI","FCO","FM","gray","dark","black","mk"],"range":["#a6aef5","#faf7a6","#f8a6a6","#8a8a8a","#555555","#000000","#505050"]},"legend":null},
    "strokeDash":{"field":"dash","type":"nominal","scale":{"domain":["solid","dot","dashdot"],"range":[[1,0],[2,2],[5,2,1,2]]},"legend":null}}},
  {"data":{"name":"pt"},"transform":[{"filter":"datum.p=='a' && datum.hi>datum.lo"}],"mark":{"type":"errorbar","ticks":{"size":5},"thickness":1},
   "encoding":{"x":{"field":"g","type":"quantitative","scale":{"domain":[1.82,0],"nice":false,"zero":false},"axis":null},"y":{"field":"lo","type":"quantitative","scale":{"domain":[0,0.1],"nice":false,"zero":false},"axis":null},"y2":{"field":"hi"},
    "color":{"field":"c","type":"nominal","scale":{"domain":["COI","FCO","FM","gray","dark","black","mk"],"range":["#a6aef5","#faf7a6","#f8a6a6","#8a8a8a","#555555","#000000","#505050"]},"legend":null}}},
  {"data":{"name":"pt"},"transform":[{"filter":"datum.p=='a' && (datum.m=='osq' || datum.m=='oci')"}],"mark":{"type":"point","filled":false,"opacity":1,"size":28,"strokeWidth":1},
   "encoding":{"x":{"field":"g","type":"quantitative","scale":{"domain":[1.82,0],"nice":false,"zero":false},"axis":null},"y":{"field":"T","type":"quantitative","scale":{"domain":[0,0.1],"nice":false,"zero":false},"axis":null},
    "shape":{"field":"m","type":"nominal","scale":{"domain":["osq","oci"],"range":["square","circle"]},"legend":null},
    "color":{"field":"c","type":"nominal","scale":{"domain":["COI","FCO","FM","gray","dark","black","mk"],"range":["#a6aef5","#faf7a6","#f8a6a6","#8a8a8a","#555555","#000000","#505050"]},"legend":null}}},
  {"data":{"name":"lab"},"transform":[{"filter":"datum.p=='a'"}],"mark":{"type":"text","font":"Liberation Serif","align":"center","baseline":"middle","color":"#111111"},
   "encoding":{"x":{"field":"g","type":"quantitative","scale":{"domain":[1.82,0],"nice":false,"zero":false},"axis":{"orient":"top","values":[1.6,1.4,1.2,1,0.8,0.6,0.4,0.2,0],"labels":false,"title":null,"tickSize":-4}},
    "y":{"field":"T","type":"quantitative","scale":{"domain":[0,0.1],"nice":false,"zero":false},"axis":{"orient":"right","values":[0,0.01,0.02,0.03,0.04,0.05,0.06,0.07,0.08,0.09,0.1],"labels":false,"title":null,"tickSize":-4}},
    "text":{"field":"t"},
    "size":{"field":"k","type":"nominal","scale":{"type":"ordinal","domain":["L","M","S","T"],"range":[20,17,14,19]},"legend":null}}},
  {"data":{"name":"lab"},"transform":[{"filter":"datum.p=='a' && datum.sub!=''"}],"mark":{"type":"text","font":"Liberation Serif","align":"left","baseline":"middle","dx":5,"dy":6,"fontSize":12,"color":"#111111"},
   "encoding":{"x":{"field":"g","type":"quantitative","scale":{"domain":[1.82,0],"nice":false,"zero":false},"axis":null},"y":{"field":"T","type":"quantitative","scale":{"domain":[0,0.1],"nice":false,"zero":false},"axis":null},"text":{"field":"sub"}}},
  {"data":{"name":"lab"},"transform":[{"filter":"datum.p=='a' && datum.sup!=''"}],"mark":{"type":"text","font":"Liberation Serif","align":"left","baseline":"middle","dx":5,"dy":-8,"fontSize":11,"color":"#111111"},
   "encoding":{"x":{"field":"g","type":"quantitative","scale":{"domain":[1.82,0],"nice":false,"zero":false},"axis":null},"y":{"field":"T","type":"quantitative","scale":{"domain":[0,0.1],"nice":false,"zero":false},"axis":null},"text":{"field":"sup"}}}
 ]},
{"width":207,"height":180,
 "resolve":{"axis":{"x":"independent","y":"independent"},"scale":{"size":"independent","shape":"independent"}},
 "layer":[
  {"data":{"name":"reg"},"transform":[{"filter":"datum.p=='b'"}],"mark":{"type":"area","clip":true},
   "encoding":{"x":{"field":"g","type":"quantitative","scale":{"domain":[1.82,0],"nice":false,"zero":false},"axis":{"orient":"bottom","values":[1.6,1.4,1.2,1,0.8,0.6,0.4,0.2,0],"labelExpr":"round(datum.value*10)%4==0 ? format(datum.value,'.1f') : ''","labelFontSize":11,"tickSize":-4,"labelPadding":6,"title":"g","titleFontSize":19,"titlePadding":-3}},
    "y":{"field":"top","type":"quantitative","scale":{"domain":[0,0.1],"nice":false,"zero":false},"axis":{"orient":"left","values":[0,0.01,0.02,0.03,0.04,0.05,0.06,0.07,0.08,0.09,0.1],"labelExpr":"round(datum.value*100)%2==0 ? format(datum.value,'.2f') : ''","labelFontSize":11,"tickSize":-4,"labelPadding":6,"title":"T","titleFontSize":22,"titleAngle":0,"titleAlign":"right","titleBaseline":"middle","titlePadding":5}},
    "y2":{"field":"bot"},
    "color":{"field":"c","type":"nominal","scale":{"domain":["COI","FCO","FM","gray","dark","black","mk"],"range":["#a6aef5","#faf7a6","#f8a6a6","#8a8a8a","#555555","#000000","#505050"]},"legend":null}}},
  {"data":{"name":"ln"},"transform":[{"filter":"datum.p=='b'"}],"mark":{"type":"line","strokeWidth":1.2,"clip":true},
   "encoding":{"x":{"field":"g","type":"quantitative","scale":{"domain":[1.82,0],"nice":false,"zero":false},"axis":null},"y":{"field":"T","type":"quantitative","scale":{"domain":[0,0.1],"nice":false,"zero":false},"axis":null},"detail":{"field":"s"},"order":{"field":"o","type":"quantitative"},
    "color":{"field":"c","type":"nominal","scale":{"domain":["COI","FCO","FM","gray","dark","black","mk"],"range":["#a6aef5","#faf7a6","#f8a6a6","#8a8a8a","#555555","#000000","#505050"]},"legend":null},
    "strokeDash":{"field":"dash","type":"nominal","scale":{"domain":["solid","dot","dashdot"],"range":[[1,0],[2,2],[5,2,1,2]]},"legend":null}}},
  {"data":{"name":"pt"},"transform":[{"filter":"datum.p=='b' && datum.hi>datum.lo"}],"mark":{"type":"errorbar","ticks":{"size":5},"thickness":1},
   "encoding":{"x":{"field":"g","type":"quantitative","scale":{"domain":[1.82,0],"nice":false,"zero":false},"axis":null},"y":{"field":"lo","type":"quantitative","scale":{"domain":[0,0.1],"nice":false,"zero":false},"axis":null},"y2":{"field":"hi"},
    "color":{"field":"c","type":"nominal","scale":{"domain":["COI","FCO","FM","gray","dark","black","mk"],"range":["#a6aef5","#faf7a6","#f8a6a6","#8a8a8a","#555555","#000000","#505050"]},"legend":null}}},
  {"data":{"name":"pt"},"transform":[{"filter":"datum.p=='b' && (datum.m=='osq' || datum.m=='oci')"}],"mark":{"type":"point","filled":false,"opacity":1,"size":28,"strokeWidth":1},
   "encoding":{"x":{"field":"g","type":"quantitative","scale":{"domain":[1.82,0],"nice":false,"zero":false},"axis":null},"y":{"field":"T","type":"quantitative","scale":{"domain":[0,0.1],"nice":false,"zero":false},"axis":null},
    "shape":{"field":"m","type":"nominal","scale":{"domain":["osq","oci"],"range":["square","circle"]},"legend":null},
    "color":{"field":"c","type":"nominal","scale":{"domain":["COI","FCO","FM","gray","dark","black","mk"],"range":["#a6aef5","#faf7a6","#f8a6a6","#8a8a8a","#555555","#000000","#505050"]},"legend":null}}},
  {"data":{"name":"pt"},"transform":[{"filter":"datum.p=='b' && (datum.m=='fci' || datum.m=='fsq')"}],"mark":{"type":"point","filled":true,"opacity":1},
   "encoding":{"x":{"field":"g","type":"quantitative","scale":{"domain":[1.82,0],"nice":false,"zero":false},"axis":null},"y":{"field":"T","type":"quantitative","scale":{"domain":[0,0.1],"nice":false,"zero":false},"axis":null},
    "shape":{"field":"m","type":"nominal","scale":{"domain":["fci","fsq"],"range":["circle","square"]},"legend":null},
    "size":{"field":"m","type":"nominal","scale":{"type":"ordinal","domain":["fci","fsq"],"range":[45,80]},"legend":null},
    "color":{"field":"c","type":"nominal","scale":{"domain":["COI","FCO","FM","gray","dark","black","mk"],"range":["#a6aef5","#faf7a6","#f8a6a6","#8a8a8a","#555555","#000000","#505050"]},"legend":null}}},
  {"data":{"name":"lab"},"transform":[{"filter":"datum.p=='b'"}],"mark":{"type":"text","font":"Liberation Serif","align":"center","baseline":"middle","color":"#111111"},
   "encoding":{"x":{"field":"g","type":"quantitative","scale":{"domain":[1.82,0],"nice":false,"zero":false},"axis":{"orient":"top","values":[1.6,1.4,1.2,1,0.8,0.6,0.4,0.2,0],"labels":false,"title":null,"tickSize":-4}},
    "y":{"field":"T","type":"quantitative","scale":{"domain":[0,0.1],"nice":false,"zero":false},"axis":{"orient":"right","values":[0,0.01,0.02,0.03,0.04,0.05,0.06,0.07,0.08,0.09,0.1],"labels":false,"title":null,"tickSize":-4}},
    "text":{"field":"t"},
    "size":{"field":"k","type":"nominal","scale":{"type":"ordinal","domain":["L","M","S","T"],"range":[20,17,14,19]},"legend":null}}},
  {"data":{"name":"lab"},"transform":[{"filter":"datum.p=='b' && datum.sub!=''"}],"mark":{"type":"text","font":"Liberation Serif","align":"left","baseline":"middle","dx":5,"dy":6,"fontSize":12,"color":"#111111"},
   "encoding":{"x":{"field":"g","type":"quantitative","scale":{"domain":[1.82,0],"nice":false,"zero":false},"axis":null},"y":{"field":"T","type":"quantitative","scale":{"domain":[0,0.1],"nice":false,"zero":false},"axis":null},"text":{"field":"sub"}}},
  {"data":{"name":"lab"},"transform":[{"filter":"datum.p=='b' && datum.sup!=''"}],"mark":{"type":"text","font":"Liberation Serif","align":"left","baseline":"middle","dx":5,"dy":-8,"fontSize":11,"color":"#111111"},
   "encoding":{"x":{"field":"g","type":"quantitative","scale":{"domain":[1.82,0],"nice":false,"zero":false},"axis":null},"y":{"field":"T","type":"quantitative","scale":{"domain":[0,0.1],"nice":false,"zero":false},"axis":null},"text":{"field":"sup"}}}
 ]},
{"width":207,"height":181,
 "resolve":{"axis":{"x":"independent","y":"independent"},"scale":{"size":"independent","shape":"independent"}},
 "layer":[
  {"data":{"name":"reg"},"transform":[{"filter":"datum.p=='c'"}],"mark":{"type":"area","clip":true},
   "encoding":{"x":{"field":"g","type":"quantitative","scale":{"domain":[1.82,0],"nice":false,"zero":false},"axis":{"orient":"bottom","values":[1.6,1.4,1.2,1,0.8,0.6,0.4,0.2,0],"labelExpr":"round(datum.value*10)%4==0 ? format(datum.value,'.1f') : ''","labelFontSize":11,"tickSize":-4,"labelPadding":6,"title":"g","titleFontSize":19,"titlePadding":-3}},
    "y":{"field":"top","type":"quantitative","scale":{"domain":[0,0.1],"nice":false,"zero":false},"axis":{"orient":"left","values":[0,0.01,0.02,0.03,0.04,0.05,0.06,0.07,0.08,0.09,0.1],"labelExpr":"round(datum.value*100)%2==0 ? format(datum.value,'.2f') : ''","labelFontSize":11,"tickSize":-4,"labelPadding":6,"title":"T","titleFontSize":22,"titleAngle":0,"titleAlign":"right","titleBaseline":"middle","titlePadding":5}},
    "y2":{"field":"bot"},
    "color":{"field":"c","type":"nominal","scale":{"domain":["COI","FCO","FM","gray","dark","black","mk"],"range":["#a6aef5","#faf7a6","#f8a6a6","#8a8a8a","#555555","#000000","#505050"]},"legend":null}}},
  {"data":{"name":"ln"},"transform":[{"filter":"datum.p=='c'"}],"mark":{"type":"line","strokeWidth":1.2,"clip":true},
   "encoding":{"x":{"field":"g","type":"quantitative","scale":{"domain":[1.82,0],"nice":false,"zero":false},"axis":null},"y":{"field":"T","type":"quantitative","scale":{"domain":[0,0.1],"nice":false,"zero":false},"axis":null},"detail":{"field":"s"},"order":{"field":"o","type":"quantitative"},
    "color":{"field":"c","type":"nominal","scale":{"domain":["COI","FCO","FM","gray","dark","black","mk"],"range":["#a6aef5","#faf7a6","#f8a6a6","#8a8a8a","#555555","#000000","#505050"]},"legend":null},
    "strokeDash":{"field":"dash","type":"nominal","scale":{"domain":["solid","dot","dashdot"],"range":[[1,0],[2,2],[5,2,1,2]]},"legend":null}}},
  {"data":{"name":"pt"},"transform":[{"filter":"datum.p=='c' && datum.hi>datum.lo"}],"mark":{"type":"errorbar","ticks":{"size":5},"thickness":1},
   "encoding":{"x":{"field":"g","type":"quantitative","scale":{"domain":[1.82,0],"nice":false,"zero":false},"axis":null},"y":{"field":"lo","type":"quantitative","scale":{"domain":[0,0.1],"nice":false,"zero":false},"axis":null},"y2":{"field":"hi"},
    "color":{"field":"c","type":"nominal","scale":{"domain":["COI","FCO","FM","gray","dark","black","mk"],"range":["#a6aef5","#faf7a6","#f8a6a6","#8a8a8a","#555555","#000000","#505050"]},"legend":null}}},
  {"data":{"name":"pt"},"transform":[{"filter":"datum.p=='c' && (datum.m=='osq' || datum.m=='oci')"}],"mark":{"type":"point","filled":false,"opacity":1,"size":28,"strokeWidth":1},
   "encoding":{"x":{"field":"g","type":"quantitative","scale":{"domain":[1.82,0],"nice":false,"zero":false},"axis":null},"y":{"field":"T","type":"quantitative","scale":{"domain":[0,0.1],"nice":false,"zero":false},"axis":null},
    "shape":{"field":"m","type":"nominal","scale":{"domain":["osq","oci"],"range":["square","circle"]},"legend":null},
    "color":{"field":"c","type":"nominal","scale":{"domain":["COI","FCO","FM","gray","dark","black","mk"],"range":["#a6aef5","#faf7a6","#f8a6a6","#8a8a8a","#555555","#000000","#505050"]},"legend":null}}},
  {"data":{"name":"pt"},"transform":[{"filter":"datum.p=='c' && (datum.m=='fci' || datum.m=='fsq')"}],"mark":{"type":"point","filled":true,"opacity":1},
   "encoding":{"x":{"field":"g","type":"quantitative","scale":{"domain":[1.82,0],"nice":false,"zero":false},"axis":null},"y":{"field":"T","type":"quantitative","scale":{"domain":[0,0.1],"nice":false,"zero":false},"axis":null},
    "shape":{"field":"m","type":"nominal","scale":{"domain":["fci","fsq"],"range":["circle","square"]},"legend":null},
    "size":{"field":"m","type":"nominal","scale":{"type":"ordinal","domain":["fci","fsq"],"range":[45,80]},"legend":null},
    "color":{"field":"c","type":"nominal","scale":{"domain":["COI","FCO","FM","gray","dark","black","mk"],"range":["#a6aef5","#faf7a6","#f8a6a6","#8a8a8a","#555555","#000000","#505050"]},"legend":null}}},
  {"data":{"name":"lab"},"transform":[{"filter":"datum.p=='c'"}],"mark":{"type":"text","font":"Liberation Serif","align":"center","baseline":"middle","color":"#111111"},
   "encoding":{"x":{"field":"g","type":"quantitative","scale":{"domain":[1.82,0],"nice":false,"zero":false},"axis":{"orient":"top","values":[1.6,1.4,1.2,1,0.8,0.6,0.4,0.2,0],"labels":false,"title":null,"tickSize":-4}},
    "y":{"field":"T","type":"quantitative","scale":{"domain":[0,0.1],"nice":false,"zero":false},"axis":{"orient":"right","values":[0,0.01,0.02,0.03,0.04,0.05,0.06,0.07,0.08,0.09,0.1],"labels":false,"title":null,"tickSize":-4}},
    "text":{"field":"t"},
    "size":{"field":"k","type":"nominal","scale":{"type":"ordinal","domain":["L","M","S","T"],"range":[20,17,14,19]},"legend":null}}},
  {"data":{"name":"lab"},"transform":[{"filter":"datum.p=='c' && datum.sub!=''"}],"mark":{"type":"text","font":"Liberation Serif","align":"left","baseline":"middle","dx":5,"dy":6,"fontSize":12,"color":"#111111"},
   "encoding":{"x":{"field":"g","type":"quantitative","scale":{"domain":[1.82,0],"nice":false,"zero":false},"axis":null},"y":{"field":"T","type":"quantitative","scale":{"domain":[0,0.1],"nice":false,"zero":false},"axis":null},"text":{"field":"sub"}}},
  {"data":{"name":"lab"},"transform":[{"filter":"datum.p=='c' && datum.sup!=''"}],"mark":{"type":"text","font":"Liberation Serif","align":"left","baseline":"middle","dx":5,"dy":-8,"fontSize":11,"color":"#111111"},
   "encoding":{"x":{"field":"g","type":"quantitative","scale":{"domain":[1.82,0],"nice":false,"zero":false},"axis":null},"y":{"field":"T","type":"quantitative","scale":{"domain":[0,0.1],"nice":false,"zero":false},"axis":null},"text":{"field":"sup"}}}
 ]}
],"spacing":39,"bounds":"flush","resolve":{"scale":{"color":"independent","size":"independent","shape":"independent"},"legend":{"color":"independent"}}},
{"vconcat":[
{"width":128,"height":127,
 "resolve":{"axis":{"x":"independent","y":"independent"},"scale":{"size":"independent"}},
 "layer":[
  {"data":{"name":"sp"},"transform":[{"filter":"datum.p=='d'"}],"mark":{"type":"line","interpolate":"monotone","clip":true,"strokeWidth":1.1},
   "encoding":{"x":{"field":"w","type":"quantitative","scale":{"domain":[-1.45,1.45],"nice":false,"zero":false},"axis":{"orient":"bottom","values":[-1,-0.5,0,0.5,1],"labelExpr":"round(datum.value*2)%2==0 ? replace(format(datum.value,'.1f'),'\u2212','-') : ''","labelFontSize":9,"tickSize":-3,"labelPadding":5,"title":"ω","titleFontSize":14,"titlePadding":0}},
    "y":{"field":"A","type":"quantitative","scale":{"domain":[0,1.2],"nice":false,"zero":false},"axis":{"orient":"left","values":[0,0.2,0.4,0.6,0.8,1.0,1.2],"format":".1f","labelFontSize":9,"tickSize":-3,"labelPadding":5,"title":null}},
    "color":{"field":"s","type":"nominal","scale":{"domain":["0.4","0.6","0.8","1.0","1.2","lab"],"range":["#ff2a2a","#3a3ae6","#95aaa0","#e03ce0","#777777","#111111"]},"legend":null}}},
  {"data":{"name":"sl"},"transform":[{"filter":"datum.p=='d'"}],"mark":{"type":"text","font":"Liberation Serif","align":"center","baseline":"middle"},
   "encoding":{"x":{"field":"w","type":"quantitative","scale":{"domain":[-1.45,1.45],"nice":false,"zero":false},"axis":{"orient":"top","values":[-1,-0.5,0,0.5,1],"labels":false,"title":null,"tickSize":-3}},
    "y":{"field":"A","type":"quantitative","scale":{"domain":[0,1.2],"nice":false,"zero":false},"axis":{"orient":"right","values":[0,0.2,0.4,0.6,0.8,1.0,1.2],"labels":false,"title":null,"tickSize":-3}},
    "text":{"field":"t"},
    "color":{"field":"s","type":"nominal","scale":{"domain":["0.4","0.6","0.8","1.0","1.2","lab"],"range":["#ff2a2a","#3a3ae6","#95aaa0","#e03ce0","#777777","#111111"]},"legend":null},
    "size":{"field":"k","type":"nominal","scale":{"type":"ordinal","domain":["L","S"],"range":[20,12]},"legend":null}}}
 ]},
{"width":128,"height":130,
 "resolve":{"axis":{"x":"independent","y":"independent"},"scale":{"size":"independent"}},
 "layer":[
  {"data":{"name":"sp"},"transform":[{"filter":"datum.p=='e'"}],"mark":{"type":"line","interpolate":"monotone","clip":true},
   "encoding":{"x":{"field":"w","type":"quantitative","scale":{"domain":[-1.5,1.5],"nice":false,"zero":false},"axis":{"orient":"bottom","values":[-1.5,-1,-0.5,0,0.5,1,1.5],"labelExpr":"replace(format(datum.value,'.1f'),'\u2212','-')","labelFontSize":9,"tickSize":-3,"labelPadding":5,"title":"ω","titleFontSize":14,"titlePadding":0}},
    "y":{"field":"A","type":"quantitative","scale":{"domain":[0,1],"nice":false,"zero":false},"axis":{"orient":"left","values":[0,0.2,0.4,0.6,0.8,1.0],"format":".1f","labelFontSize":9,"tickSize":-3,"labelPadding":5,"title":null}},
    "color":{"field":"s","type":"nominal","scale":{"domain":["0.0","0.1","0.2"],"range":["#000000","#d41c1c","#1c1cd4"]},"legend":{"title":"Δ","orient":"none","legendX":86,"legendY":10}},
    "strokeWidth":{"field":"s","type":"nominal","scale":{"type":"ordinal","domain":["0.0","0.1","0.2"],"range":[1,1.8,1.8]},"legend":null}}},
  {"data":{"name":"se"},"transform":[{"filter":"datum.p=='e'"}],"mark":{"type":"errorbar","ticks":{"size":4},"thickness":1.2},
   "encoding":{"x":{"field":"w","type":"quantitative","scale":{"domain":[-1.5,1.5],"nice":false,"zero":false},"axis":null},"y":{"field":"lo","type":"quantitative","scale":{"domain":[0,1],"nice":false,"zero":false},"axis":null},"y2":{"field":"hi"},
    "color":{"field":"s","type":"nominal","scale":{"domain":["0.0","0.1","0.2"],"range":["#000000","#d41c1c","#1c1cd4"]},"legend":null}}},
  {"data":{"name":"sl"},"transform":[{"filter":"datum.p=='e'"}],"mark":{"type":"text","font":"Liberation Serif","align":"center","baseline":"middle","color":"#111111"},
   "encoding":{"x":{"field":"w","type":"quantitative","scale":{"domain":[-1.5,1.5],"nice":false,"zero":false},"axis":{"orient":"top","values":[-1.5,-1,-0.5,0,0.5,1,1.5],"labels":false,"title":null,"tickSize":-3}},
    "y":{"field":"A","type":"quantitative","scale":{"domain":[0,1],"nice":false,"zero":false},"axis":{"orient":"right","values":[0,0.2,0.4,0.6,0.8,1.0],"labels":false,"title":null,"tickSize":-3}},
    "text":{"field":"t"},
    "size":{"field":"k","type":"nominal","scale":{"type":"ordinal","domain":["L","S"],"range":[20,13]},"legend":null}}}
 ]},
{"width":128,"height":130,
 "resolve":{"axis":{"x":"independent","y":"independent"},"scale":{"size":"independent"}},
 "layer":[
  {"data":{"name":"sp"},"transform":[{"filter":"datum.p=='f'"}],"mark":{"type":"line","interpolate":"monotone","clip":true},
   "encoding":{"x":{"field":"w","type":"quantitative","scale":{"domain":[-3,3],"nice":false,"zero":false},"axis":{"orient":"bottom","values":[-3,-2,-1,0,1,2,3],"labelExpr":"replace(format(datum.value,'.1f'),'\u2212','-')","labelFontSize":9,"tickSize":-3,"labelPadding":5,"title":"ω","titleFontSize":14,"titlePadding":0}},
    "y":{"field":"A","type":"quantitative","scale":{"domain":[0,1],"nice":false,"zero":false},"axis":{"orient":"left","values":[0,0.2,0.4,0.6,0.8,1.0],"format":".1f","labelFontSize":9,"tickSize":-3,"labelPadding":5,"title":null}},
    "color":{"field":"s","type":"nominal","scale":{"domain":["0.0","0.1","0.2"],"range":["#000000","#d41c1c","#1c1cd4"]},"legend":{"title":"Δ","orient":"none","legendX":46,"legendY":62}},
    "strokeWidth":{"field":"s","type":"nominal","scale":{"type":"ordinal","domain":["0.0","0.1","0.2"],"range":[1,1.8,1.8]},"legend":null}}},
  {"data":{"name":"se"},"transform":[{"filter":"datum.p=='f'"}],"mark":{"type":"errorbar","ticks":{"size":4},"thickness":1.2},
   "encoding":{"x":{"field":"w","type":"quantitative","scale":{"domain":[-3,3],"nice":false,"zero":false},"axis":null},"y":{"field":"lo","type":"quantitative","scale":{"domain":[0,1],"nice":false,"zero":false},"axis":null},"y2":{"field":"hi"},
    "color":{"field":"s","type":"nominal","scale":{"domain":["0.0","0.1","0.2"],"range":["#000000","#d41c1c","#1c1cd4"]},"legend":null}}},
  {"data":{"name":"sl"},"transform":[{"filter":"datum.p=='f'"}],"mark":{"type":"text","font":"Liberation Serif","align":"center","baseline":"middle","color":"#111111"},
   "encoding":{"x":{"field":"w","type":"quantitative","scale":{"domain":[-3,3],"nice":false,"zero":false},"axis":{"orient":"top","values":[-3,-2,-1,0,1,2,3],"labels":false,"title":null,"tickSize":-3}},
    "y":{"field":"A","type":"quantitative","scale":{"domain":[0,1],"nice":false,"zero":false},"axis":{"orient":"right","values":[0,0.2,0.4,0.6,0.8,1.0],"labels":false,"title":null,"tickSize":-3}},
    "text":{"field":"t"},
    "size":{"field":"k","type":"nominal","scale":{"type":"ordinal","domain":["L","S"],"range":[20,13]},"legend":null}}}
 ]},
{"width":128,"height":130,
 "resolve":{"axis":{"x":"independent","y":"independent"},"scale":{"size":"independent"}},
 "layer":[
  {"data":{"name":"sp"},"transform":[{"filter":"datum.p=='g'"}],"mark":{"type":"line","interpolate":"monotone","clip":true},
   "encoding":{"x":{"field":"w","type":"quantitative","scale":{"domain":[-1.5,1.5],"nice":false,"zero":false},"axis":{"orient":"bottom","values":[-1.5,-1,-0.5,0,0.5,1,1.5],"labelExpr":"replace(format(datum.value,'.1f'),'\u2212','-')","labelFontSize":9,"tickSize":-3,"labelPadding":5,"title":"ω","titleFontSize":14,"titlePadding":0}},
    "y":{"field":"A","type":"quantitative","scale":{"domain":[0,1],"nice":false,"zero":false},"axis":{"orient":"left","values":[0,0.2,0.4,0.6,0.8,1.0],"format":".1f","labelFontSize":9,"tickSize":-3,"labelPadding":5,"title":null}},
    "color":{"field":"s","type":"nominal","scale":{"domain":["0.0","0.1","0.2"],"range":["#000000","#d41c1c","#1c1cd4"]},"legend":{"title":"Δ","orient":"none","legendX":88,"legendY":10}},
    "strokeWidth":{"field":"s","type":"nominal","scale":{"type":"ordinal","domain":["0.0","0.1","0.2"],"range":[1,1.8,1.8]},"legend":null}}},
  {"data":{"name":"se"},"transform":[{"filter":"datum.p=='g'"}],"mark":{"type":"errorbar","ticks":{"size":4},"thickness":1.2},
   "encoding":{"x":{"field":"w","type":"quantitative","scale":{"domain":[-1.5,1.5],"nice":false,"zero":false},"axis":null},"y":{"field":"lo","type":"quantitative","scale":{"domain":[0,1],"nice":false,"zero":false},"axis":null},"y2":{"field":"hi"},
    "color":{"field":"s","type":"nominal","scale":{"domain":["0.0","0.1","0.2"],"range":["#000000","#d41c1c","#1c1cd4"]},"legend":null}}},
  {"data":{"name":"sl"},"transform":[{"filter":"datum.p=='g'"}],"mark":{"type":"text","font":"Liberation Serif","align":"center","baseline":"middle","color":"#111111"},
   "encoding":{"x":{"field":"w","type":"quantitative","scale":{"domain":[-1.5,1.5],"nice":false,"zero":false},"axis":{"orient":"top","values":[-1.5,-1,-0.5,0,0.5,1,1.5],"labels":false,"title":null,"tickSize":-3}},
    "y":{"field":"A","type":"quantitative","scale":{"domain":[0,1],"nice":false,"zero":false},"axis":{"orient":"right","values":[0,0.2,0.4,0.6,0.8,1.0],"labels":false,"title":null,"tickSize":-3}},
    "text":{"field":"t"},
    "size":{"field":"k","type":"nominal","scale":{"type":"ordinal","domain":["L","S"],"range":[20,13]},"legend":null}}}
 ]}
],"spacing":32,"bounds":"flush","resolve":{"scale":{"color":"independent","size":"independent","strokeWidth":"independent"},"legend":{"color":"independent"}}}
]
}
